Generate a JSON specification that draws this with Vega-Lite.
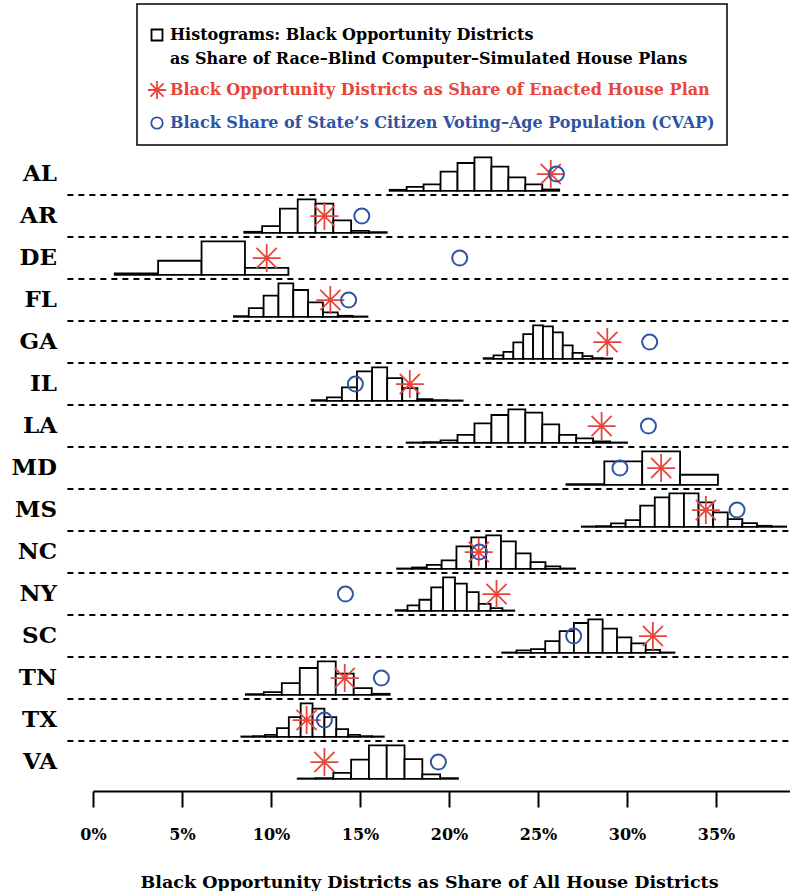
{
  "$schema": "https://vega.github.io/schema/vega-lite/v6.json",
  "padding": {"left": 11, "top": 3, "right": 0, "bottom": 0},
  "background": "white",
  "bounds": "flush",
  "data": {"values": [
    {"state":"AL","type":"hist","lo":0.16667,"hi":0.17619,"freq":0.03},
    {"state":"AL","type":"hist","lo":0.17619,"hi":0.18571,"freq":0.12},
    {"state":"AL","type":"hist","lo":0.18571,"hi":0.19524,"freq":0.19},
    {"state":"AL","type":"hist","lo":0.19524,"hi":0.20476,"freq":0.57},
    {"state":"AL","type":"hist","lo":0.20476,"hi":0.21429,"freq":0.83},
    {"state":"AL","type":"hist","lo":0.21429,"hi":0.22381,"freq":1.0},
    {"state":"AL","type":"hist","lo":0.22381,"hi":0.23333,"freq":0.72},
    {"state":"AL","type":"hist","lo":0.23333,"hi":0.24286,"freq":0.40},
    {"state":"AL","type":"hist","lo":0.24286,"hi":0.25238,"freq":0.19},
    {"state":"AL","type":"hist","lo":0.25238,"hi":0.26190,"freq":0.04},
    {"state":"AL","type":"enacted","value":0.25714},
    {"state":"AL","type":"cvap","value":0.2603},

    {"state":"AR","type":"hist","lo":0.085,"hi":0.095,"freq":0.03},
    {"state":"AR","type":"hist","lo":0.095,"hi":0.105,"freq":0.2},
    {"state":"AR","type":"hist","lo":0.105,"hi":0.115,"freq":0.72},
    {"state":"AR","type":"hist","lo":0.115,"hi":0.125,"freq":1.0},
    {"state":"AR","type":"hist","lo":0.125,"hi":0.135,"freq":0.87},
    {"state":"AR","type":"hist","lo":0.135,"hi":0.145,"freq":0.37},
    {"state":"AR","type":"hist","lo":0.145,"hi":0.155,"freq":0.06},
    {"state":"AR","type":"hist","lo":0.155,"hi":0.165,"freq":0.02},
    {"state":"AR","type":"enacted","value":0.13},
    {"state":"AR","type":"cvap","value":0.151},

    {"state":"DE","type":"hist","lo":0.012195,"hi":0.036585,"freq":0.04},
    {"state":"DE","type":"hist","lo":0.036585,"hi":0.060976,"freq":0.42},
    {"state":"DE","type":"hist","lo":0.060976,"hi":0.085366,"freq":1.0},
    {"state":"DE","type":"hist","lo":0.085366,"hi":0.109756,"freq":0.21},
    {"state":"DE","type":"enacted","value":0.09756},
    {"state":"DE","type":"cvap","value":0.206},

    {"state":"FL","type":"hist","lo":0.079167,"hi":0.0875,"freq":0.02},
    {"state":"FL","type":"hist","lo":0.0875,"hi":0.095833,"freq":0.26},
    {"state":"FL","type":"hist","lo":0.095833,"hi":0.104167,"freq":0.63},
    {"state":"FL","type":"hist","lo":0.104167,"hi":0.1125,"freq":1.0},
    {"state":"FL","type":"hist","lo":0.1125,"hi":0.120833,"freq":0.8},
    {"state":"FL","type":"hist","lo":0.120833,"hi":0.129167,"freq":0.43},
    {"state":"FL","type":"hist","lo":0.129167,"hi":0.1375,"freq":0.13},
    {"state":"FL","type":"hist","lo":0.1375,"hi":0.145833,"freq":0.03},
    {"state":"FL","type":"hist","lo":0.145833,"hi":0.154167,"freq":0.01},
    {"state":"FL","type":"enacted","value":0.13333},
    {"state":"FL","type":"cvap","value":0.1436},

    {"state":"GA","type":"hist","lo":0.219444,"hi":0.225,"freq":0.02},
    {"state":"GA","type":"hist","lo":0.225,"hi":0.230556,"freq":0.1},
    {"state":"GA","type":"hist","lo":0.230556,"hi":0.236111,"freq":0.21},
    {"state":"GA","type":"hist","lo":0.236111,"hi":0.241667,"freq":0.49},
    {"state":"GA","type":"hist","lo":0.241667,"hi":0.247222,"freq":0.74},
    {"state":"GA","type":"hist","lo":0.247222,"hi":0.252778,"freq":1.0},
    {"state":"GA","type":"hist","lo":0.252778,"hi":0.258333,"freq":0.97},
    {"state":"GA","type":"hist","lo":0.258333,"hi":0.263889,"freq":0.79},
    {"state":"GA","type":"hist","lo":0.263889,"hi":0.269444,"freq":0.4},
    {"state":"GA","type":"hist","lo":0.269444,"hi":0.275,"freq":0.18},
    {"state":"GA","type":"hist","lo":0.275,"hi":0.280556,"freq":0.08},
    {"state":"GA","type":"hist","lo":0.280556,"hi":0.286111,"freq":0.02},
    {"state":"GA","type":"hist","lo":0.286111,"hi":0.291667,"freq":0.01},
    {"state":"GA","type":"enacted","value":0.28889},
    {"state":"GA","type":"cvap","value":0.3127},

    {"state":"IL","type":"hist","lo":0.122881,"hi":0.131356,"freq":0.02},
    {"state":"IL","type":"hist","lo":0.131356,"hi":0.139831,"freq":0.1},
    {"state":"IL","type":"hist","lo":0.139831,"hi":0.148305,"freq":0.4},
    {"state":"IL","type":"hist","lo":0.148305,"hi":0.15678,"freq":0.88},
    {"state":"IL","type":"hist","lo":0.15678,"hi":0.165254,"freq":1.0},
    {"state":"IL","type":"hist","lo":0.165254,"hi":0.173729,"freq":0.68},
    {"state":"IL","type":"hist","lo":0.173729,"hi":0.182203,"freq":0.38},
    {"state":"IL","type":"hist","lo":0.182203,"hi":0.190678,"freq":0.05},
    {"state":"IL","type":"hist","lo":0.190678,"hi":0.199153,"freq":0.02},
    {"state":"IL","type":"hist","lo":0.199153,"hi":0.207627,"freq":0.01},
    {"state":"IL","type":"enacted","value":0.17797},
    {"state":"IL","type":"cvap","value":0.1474},

    {"state":"LA","type":"hist","lo":0.17619,"hi":0.18571,"freq":0.01},
    {"state":"LA","type":"hist","lo":0.18571,"hi":0.19524,"freq":0.02},
    {"state":"LA","type":"hist","lo":0.19524,"hi":0.20476,"freq":0.07},
    {"state":"LA","type":"hist","lo":0.20476,"hi":0.21429,"freq":0.24},
    {"state":"LA","type":"hist","lo":0.21429,"hi":0.22381,"freq":0.58},
    {"state":"LA","type":"hist","lo":0.22381,"hi":0.23333,"freq":0.83},
    {"state":"LA","type":"hist","lo":0.23333,"hi":0.24286,"freq":1.0},
    {"state":"LA","type":"hist","lo":0.24286,"hi":0.25238,"freq":0.9},
    {"state":"LA","type":"hist","lo":0.25238,"hi":0.2619,"freq":0.55},
    {"state":"LA","type":"hist","lo":0.2619,"hi":0.27143,"freq":0.24},
    {"state":"LA","type":"hist","lo":0.27143,"hi":0.28095,"freq":0.13},
    {"state":"LA","type":"hist","lo":0.28095,"hi":0.29048,"freq":0.04},
    {"state":"LA","type":"hist","lo":0.29048,"hi":0.3,"freq":0.01},
    {"state":"LA","type":"enacted","value":0.28571},
    {"state":"LA","type":"cvap","value":0.312},

    {"state":"MD","type":"hist","lo":0.265957,"hi":0.287234,"freq":0.02},
    {"state":"MD","type":"hist","lo":0.287234,"hi":0.308511,"freq":0.7},
    {"state":"MD","type":"hist","lo":0.308511,"hi":0.329787,"freq":1.0},
    {"state":"MD","type":"hist","lo":0.329787,"hi":0.351064,"freq":0.3},
    {"state":"MD","type":"enacted","value":0.31915},
    {"state":"MD","type":"cvap","value":0.296},

    {"state":"MS","type":"hist","lo":0.27459,"hi":0.282787,"freq":0.01},
    {"state":"MS","type":"hist","lo":0.282787,"hi":0.290984,"freq":0.02},
    {"state":"MS","type":"hist","lo":0.290984,"hi":0.29918,"freq":0.1},
    {"state":"MS","type":"hist","lo":0.29918,"hi":0.307377,"freq":0.2},
    {"state":"MS","type":"hist","lo":0.307377,"hi":0.315574,"freq":0.63},
    {"state":"MS","type":"hist","lo":0.315574,"hi":0.32377,"freq":0.88},
    {"state":"MS","type":"hist","lo":0.32377,"hi":0.331967,"freq":1.0},
    {"state":"MS","type":"hist","lo":0.331967,"hi":0.340164,"freq":1.0},
    {"state":"MS","type":"hist","lo":0.340164,"hi":0.348361,"freq":0.73},
    {"state":"MS","type":"hist","lo":0.348361,"hi":0.356557,"freq":0.43},
    {"state":"MS","type":"hist","lo":0.356557,"hi":0.364754,"freq":0.23},
    {"state":"MS","type":"hist","lo":0.364754,"hi":0.372951,"freq":0.11},
    {"state":"MS","type":"hist","lo":0.372951,"hi":0.381148,"freq":0.03},
    {"state":"MS","type":"hist","lo":0.381148,"hi":0.389344,"freq":0.01},
    {"state":"MS","type":"enacted","value":0.34426},
    {"state":"MS","type":"cvap","value":0.3618},

    {"state":"NC","type":"hist","lo":0.170833,"hi":0.179167,"freq":0.01},
    {"state":"NC","type":"hist","lo":0.179167,"hi":0.1875,"freq":0.04},
    {"state":"NC","type":"hist","lo":0.1875,"hi":0.195833,"freq":0.12},
    {"state":"NC","type":"hist","lo":0.195833,"hi":0.204167,"freq":0.25},
    {"state":"NC","type":"hist","lo":0.204167,"hi":0.2125,"freq":0.67},
    {"state":"NC","type":"hist","lo":0.2125,"hi":0.220833,"freq":0.94},
    {"state":"NC","type":"hist","lo":0.220833,"hi":0.229167,"freq":1.0},
    {"state":"NC","type":"hist","lo":0.229167,"hi":0.2375,"freq":0.82},
    {"state":"NC","type":"hist","lo":0.2375,"hi":0.245833,"freq":0.46},
    {"state":"NC","type":"hist","lo":0.245833,"hi":0.254167,"freq":0.2},
    {"state":"NC","type":"hist","lo":0.254167,"hi":0.2625,"freq":0.07},
    {"state":"NC","type":"hist","lo":0.2625,"hi":0.270833,"freq":0.01},
    {"state":"NC","type":"enacted","value":0.21667},
    {"state":"NC","type":"cvap","value":0.217},

    {"state":"NY","type":"hist","lo":0.17,"hi":0.176667,"freq":0.02},
    {"state":"NY","type":"hist","lo":0.176667,"hi":0.183333,"freq":0.16},
    {"state":"NY","type":"hist","lo":0.183333,"hi":0.19,"freq":0.33},
    {"state":"NY","type":"hist","lo":0.19,"hi":0.196667,"freq":0.7},
    {"state":"NY","type":"hist","lo":0.196667,"hi":0.203333,"freq":1.0},
    {"state":"NY","type":"hist","lo":0.203333,"hi":0.21,"freq":0.81},
    {"state":"NY","type":"hist","lo":0.21,"hi":0.216667,"freq":0.56},
    {"state":"NY","type":"hist","lo":0.216667,"hi":0.223333,"freq":0.21},
    {"state":"NY","type":"hist","lo":0.223333,"hi":0.23,"freq":0.08},
    {"state":"NY","type":"hist","lo":0.23,"hi":0.236667,"freq":0.01},
    {"state":"NY","type":"enacted","value":0.22667},
    {"state":"NY","type":"cvap","value":0.1418},

    {"state":"SC","type":"hist","lo":0.229839,"hi":0.237903,"freq":0.01},
    {"state":"SC","type":"hist","lo":0.237903,"hi":0.245968,"freq":0.07},
    {"state":"SC","type":"hist","lo":0.245968,"hi":0.254032,"freq":0.11},
    {"state":"SC","type":"hist","lo":0.254032,"hi":0.262097,"freq":0.35},
    {"state":"SC","type":"hist","lo":0.262097,"hi":0.270161,"freq":0.65},
    {"state":"SC","type":"hist","lo":0.270161,"hi":0.278226,"freq":0.89},
    {"state":"SC","type":"hist","lo":0.278226,"hi":0.28629,"freq":1.0},
    {"state":"SC","type":"hist","lo":0.28629,"hi":0.294355,"freq":0.72},
    {"state":"SC","type":"hist","lo":0.294355,"hi":0.302419,"freq":0.46},
    {"state":"SC","type":"hist","lo":0.302419,"hi":0.310484,"freq":0.28},
    {"state":"SC","type":"hist","lo":0.310484,"hi":0.318548,"freq":0.09},
    {"state":"SC","type":"hist","lo":0.318548,"hi":0.326613,"freq":0.01},
    {"state":"SC","type":"enacted","value":0.31452},
    {"state":"SC","type":"cvap","value":0.270},

    {"state":"TN","type":"hist","lo":0.085859,"hi":0.09596,"freq":0.02},
    {"state":"TN","type":"hist","lo":0.09596,"hi":0.106061,"freq":0.08},
    {"state":"TN","type":"hist","lo":0.106061,"hi":0.116162,"freq":0.35},
    {"state":"TN","type":"hist","lo":0.116162,"hi":0.126263,"freq":0.8},
    {"state":"TN","type":"hist","lo":0.126263,"hi":0.136364,"freq":1.0},
    {"state":"TN","type":"hist","lo":0.136364,"hi":0.146465,"freq":0.63},
    {"state":"TN","type":"hist","lo":0.146465,"hi":0.156566,"freq":0.2},
    {"state":"TN","type":"hist","lo":0.156566,"hi":0.166667,"freq":0.03},
    {"state":"TN","type":"enacted","value":0.14141},
    {"state":"TN","type":"cvap","value":0.162},

    {"state":"TX","type":"hist","lo":0.083333,"hi":0.09,"freq":0.01},
    {"state":"TX","type":"hist","lo":0.09,"hi":0.096667,"freq":0.02},
    {"state":"TX","type":"hist","lo":0.096667,"hi":0.103333,"freq":0.06},
    {"state":"TX","type":"hist","lo":0.103333,"hi":0.11,"freq":0.26},
    {"state":"TX","type":"hist","lo":0.11,"hi":0.116667,"freq":0.59},
    {"state":"TX","type":"hist","lo":0.116667,"hi":0.123333,"freq":1.0},
    {"state":"TX","type":"hist","lo":0.123333,"hi":0.13,"freq":0.84},
    {"state":"TX","type":"hist","lo":0.13,"hi":0.136667,"freq":0.59},
    {"state":"TX","type":"hist","lo":0.136667,"hi":0.143333,"freq":0.23},
    {"state":"TX","type":"hist","lo":0.143333,"hi":0.15,"freq":0.06},
    {"state":"TX","type":"hist","lo":0.15,"hi":0.156667,"freq":0.02},
    {"state":"TX","type":"hist","lo":0.156667,"hi":0.163333,"freq":0.01},
    {"state":"TX","type":"enacted","value":0.12},
    {"state":"TX","type":"cvap","value":0.130},

    {"state":"VA","type":"hist","lo":0.115,"hi":0.125,"freq":0.01},
    {"state":"VA","type":"hist","lo":0.125,"hi":0.135,"freq":0.02},
    {"state":"VA","type":"hist","lo":0.135,"hi":0.145,"freq":0.18},
    {"state":"VA","type":"hist","lo":0.145,"hi":0.155,"freq":0.57},
    {"state":"VA","type":"hist","lo":0.155,"hi":0.165,"freq":1.0},
    {"state":"VA","type":"hist","lo":0.165,"hi":0.175,"freq":1.0},
    {"state":"VA","type":"hist","lo":0.175,"hi":0.185,"freq":0.59},
    {"state":"VA","type":"hist","lo":0.185,"hi":0.195,"freq":0.13},
    {"state":"VA","type":"hist","lo":0.195,"hi":0.205,"freq":0.02},
    {"state":"VA","type":"enacted","value":0.13},
    {"state":"VA","type":"cvap","value":0.194}
  ]},
  "facet": {
    "row": {
      "field": "state", "type": "nominal",
      "sort": ["AL","AR","DE","FL","GA","IL","LA","MD","MS","NC","NY","SC","TN","TX","VA"],
      "title": null,
      "header": {
        "labelAngle": 0, "labelAlign": "left", "labelBaseline": "middle", "labelOrient": "left",
        "labelPadding": 36, "labelFont": "DejaVu Serif", "labelFontWeight": "bold",
        "labelFontSize": 23, "labelColor": "black"
      }
    }
  },
  "spacing": 0,
  "spec": {
    "width": 697.3,
    "height": 42,
    "layer": [
      {
        "transform": [{"filter": "datum.type == 'enacted' && datum.state != 'VA'"}],
        "mark": {"type": "rule", "strokeDash": [6, 5], "strokeWidth": 1.8, "color": "black"},
        "encoding": {
          "x": {"datum": -0.0144, "type": "quantitative", "axis": {"title": "Black Opportunity Districts as Share of All House Districts"}},
          "x2": {"datum": 0.3917},
          "y": {"datum": -0.125, "type": "quantitative", "axis": null}
        }
      },
      {
        "transform": [{"filter": "datum.type == 'hist'"}],
        "mark": {"type": "rect", "fill": "white", "strokeWidth": 1.8},
        "encoding": {
          "x": {
            "field": "lo", "type": "quantitative",
            "scale": {"domain": [0, 0.3917], "nice": false, "zero": false},
            "axis": {
              "values": [0, 0.05, 0.1, 0.15, 0.2, 0.25, 0.3, 0.35],
              "format": ".0%", "offset": 8, "tickSize": 16, "tickWidth": 2,
              "domainWidth": 2, "domainColor": "black", "tickColor": "black",
              "labelFont": "DejaVu Serif", "labelFontWeight": "bold", "labelFontSize": 16,
              "labelColor": "black", "labelPadding": 19, "labelFlush": false, "grid": false,
              "title": "Black Opportunity Districts as Share of All House Districts",
              "titleFont": "DejaVu Serif", "titleFontWeight": "bold", "titleFontSize": 17.5,
              "titleColor": "black", "titlePadding": 31, "titleX": 336
            }
          },
          "x2": {"field": "hi"},
          "y": {
            "field": "freq", "type": "quantitative",
            "scale": {"domain": [-0.125, 1.129], "nice": false, "zero": false},
            "axis": null
          },
          "y2": {"datum": 0},
          "stroke": {
            "field": "type", "type": "nominal",
            "scale": {"domain": ["hist", "enacted", "cvap"], "range": ["black", "#e8453c", "#2f53a5"]},
            "legend": {
              "orient": "none", "legendX": 44, "legendY": -149,
              "title": " ", "titleFontSize": 8, "titlePadding": 3,
              "padding": 12, "rowPadding": 10,
              "strokeColor": "black", "fillColor": "white",
              "labelFont": "DejaVu Serif", "labelFontWeight": "bold", "labelFontSize": 16,
              "labelLimit": 0, "labelOffset": 5,
              "labelExpr": "datum.value == 'hist' ? ['Histograms: Black Opportunity Districts', 'as Share of Race–Blind Computer–Simulated House Plans'] : datum.value == 'enacted' ? 'Black Opportunity Districts as Share of Enacted House Plan' : 'Black Share of State’s Citizen Voting–Age Population (CVAP)'",
              "encoding": {
                "labels": {
                  "fill": {"value": {"expr": "datum.value == 'enacted' ? '#e8453c' : datum.value == 'cvap' ? '#2f53a5' : 'black'"}},
                  "lineHeight": {"value": 24}
                },
                "symbols": {
                  "size": {"value": {"expr": "datum.value == 'enacted' ? 330 : datum.value == 'cvap' ? 130 : 120"}},
                  "strokeWidth": {"value": 1.8},
                  "fill": {"value": "transparent"}
                },
                "legend": {"strokeWidth": {"value": 1.5}}
              }
            }
          }
        }
      },
      {
        "transform": [{"filter": "datum.type == 'enacted'"}],
        "mark": {"type": "point", "filled": false, "strokeWidth": 1.8, "size": 784, "opacity": 1},
        "encoding": {
          "x": {"field": "value", "type": "quantitative", "axis": {"title": "Black Opportunity Districts as Share of All House Districts"}},
          "y": {"datum": 0.5, "type": "quantitative", "axis": null},
          "shape": {
            "field": "type", "type": "nominal",
            "scale": {"domain": ["hist", "enacted", "cvap"], "range": ["square", "M-1,0L1,0M0,-1L0,1M-0.72,-0.72L0.72,0.72M-0.72,0.72L0.72,-0.72", "circle"]},
            "legend": {
              "orient": "none", "legendX": 44, "legendY": -149,
              "title": " ", "titleFontSize": 8, "titlePadding": 3,
              "padding": 12, "rowPadding": 10,
              "strokeColor": "black", "fillColor": "white",
              "labelFont": "DejaVu Serif", "labelFontWeight": "bold", "labelFontSize": 16,
              "labelLimit": 0, "labelOffset": 5,
              "labelExpr": "datum.value == 'hist' ? ['Histograms: Black Opportunity Districts', 'as Share of Race–Blind Computer–Simulated House Plans'] : datum.value == 'enacted' ? 'Black Opportunity Districts as Share of Enacted House Plan' : 'Black Share of State’s Citizen Voting–Age Population (CVAP)'",
              "encoding": {
                "labels": {
                  "fill": {"value": {"expr": "datum.value == 'enacted' ? '#e8453c' : datum.value == 'cvap' ? '#2f53a5' : 'black'"}},
                  "lineHeight": {"value": 24}
                },
                "symbols": {
                  "size": {"value": {"expr": "datum.value == 'enacted' ? 330 : datum.value == 'cvap' ? 130 : 120"}},
                  "strokeWidth": {"value": 1.8},
                  "fill": {"value": "transparent"}
                },
                "legend": {"strokeWidth": {"value": 1.5}}
              }
            }
          },
          "stroke": {"field": "type", "type": "nominal", "legend": {"title": " "}}
        }
      },
      {
        "transform": [{"filter": "datum.type == 'cvap'"}],
        "mark": {"type": "point", "filled": false, "strokeWidth": 2, "size": 225, "opacity": 1},
        "encoding": {
          "x": {"field": "value", "type": "quantitative", "axis": {"title": "Black Opportunity Districts as Share of All House Districts"}},
          "y": {"datum": 0.5, "type": "quantitative", "axis": null},
          "shape": {"field": "type", "type": "nominal", "legend": {"title": " "}},
          "stroke": {"field": "type", "type": "nominal", "legend": {"title": " "}}
        }
      }
    ]
  },
  "config": {
    "view": {"stroke": null},
    "font": "DejaVu Serif"
  }
}
